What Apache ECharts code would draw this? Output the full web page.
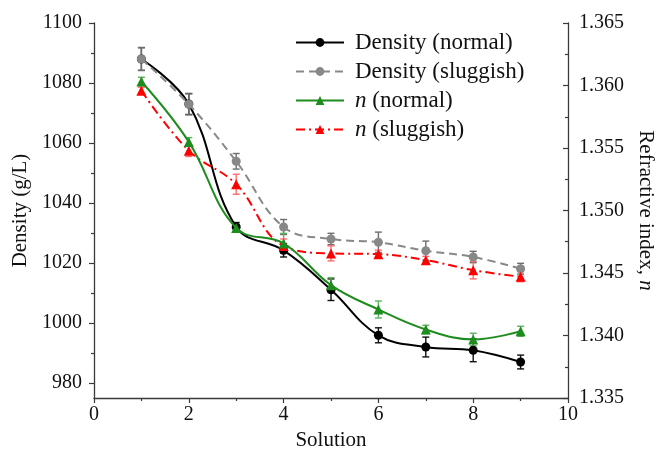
<!DOCTYPE html>
<html>
<head>
<meta charset="utf-8">
<script src="https://cdn.jsdelivr.net/npm/echarts@6/dist/echarts.min.js"></script>
<style>html,body{margin:0;padding:0;background:#fff}#c{width:656px;height:451px}</style>
</head>
<body>
<div id="c"></div>
<script>
const solution = [1, 2, 3, 4, 5, 6, 7, 8, 9];
const densityNormal = [1088, 1073, 1032, 1024.2, 1011.1, 995.9, 992.0, 990.9, 987.0];
const densityNormalErr = [3.8, 3.5, 1.5, 2.2, 3.6, 2.5, 3.3, 3.8, 2.3];
const densitySluggish = [1088.0, 1072.9, 1053.9, 1032.0, 1028.0, 1026.9, 1024.1, 1022.0, 1018.1];
const densitySluggishErr = [3.8, 3.5, 2.6, 2.5, 1.9, 3.4, 3.2, 1.9, 1.8];
const nNormal = [1.36032, 1.35549, 1.3486, 1.34737, 1.34403, 1.34208, 1.34048, 1.33968, 1.34034];
const nNormalErr = [0.00034, 0.00034, 0.00024, 0.0008, 0.0006, 0.00068, 0.00034, 0.0005, 0.0004];
const nSluggish = [1.35958, 1.35479, 1.3521, 1.34716, 1.34657, 1.34651, 1.34603, 1.34523, 1.3447];
const nSluggishErr = [0.00028, 0.00047, 0.0008, 0.00056, 0.0006, 0.00032, 0.0003, 0.0007, 0.0004];
const densityTicks = [980, 1000, 1020, 1040, 1060, 1080, 1100];
const densityMinorTicks = [990, 1010, 1030, 1050, 1070, 1090];
const seriesNames = ['Density (normal)', 'Density (sluggish)', 'n (normal)', 'n (sluggish)'];

const FONT = 'Liberation Serif';
const AX = '#3a3a3a';

function pairs(vals) { return solution.map((x, i) => [x, vals[i]]); }
function errSeries(yIdx, vals, errs, color) {
  return {
    type: 'custom', yAxisIndex: yIdx, silent: true, z: 1,
    data: solution.map((x, i) => [x, vals[i] - errs[i], vals[i] + errs[i]]),
    encode: { x: 0, y: [1, 2] },
    renderItem: function (params, api) {
      const x = api.value(0);
      const lo = api.coord([x, api.value(1)]);
      const hi = api.coord([x, api.value(2)]);
      const w = 3.5;
      const st = { stroke: color, lineWidth: 1.4 };
      return {
        type: 'group', children: [
          { type: 'line', shape: { x1: lo[0], y1: lo[1], x2: hi[0], y2: hi[1] }, style: st },
          { type: 'line', shape: { x1: lo[0] - w, y1: lo[1], x2: lo[0] + w, y2: lo[1] }, style: st },
          { type: 'line', shape: { x1: hi[0] - w, y1: hi[1], x2: hi[0] + w, y2: hi[1] }, style: st }
        ]
      };
    }
  };
}

const chart = echarts.init(document.getElementById('c'), null, { renderer: 'canvas' });
chart.setOption({
  animation: false,
  textStyle: { fontFamily: FONT },
  grid: { left: 94, right: 88, top: 23, bottom: 53, containLabel: false, outerBoundsMode: 'none' },
  legend: {
    orient: 'vertical', left: 290, top: 26, itemGap: 6,
    itemWidth: 48, itemHeight: 11,
    data: seriesNames,
    formatter: function (name) {
      if (name.indexOf('n ') === 0) return '{i|n}' + name.slice(1);
      return name;
    },
    textStyle: {
      fontFamily: FONT, fontSize: 23, color: '#111', padding: [0, 0, 0, 6],
      rich: { i: { fontFamily: FONT, fontSize: 23, fontStyle: 'italic', color: '#111' } }
    }
  },
  xAxis: {
    type: 'value', min: 0, max: 10, interval: 2,
    name: 'Solution', nameLocation: 'middle', nameGap: 29,
    nameTextStyle: { fontFamily: FONT, fontSize: 21, color: '#111' },
    axisLine: { show: true, lineStyle: { color: AX, width: 1.3 } },
    axisTick: { show: true, length: 5, lineStyle: { color: AX, width: 1.2 } },
    minorTick: { show: true, splitNumber: 2, length: 3, lineStyle: { color: AX, width: 1.2 } },
    axisLabel: { fontFamily: FONT, fontSize: 20, color: '#111', margin: 7 },
    splitLine: { show: false }
  },
  yAxis: [
    {
      type: 'value', position: 'left', min: 975, max: 1100,
      name: 'Density (g/L)', nameLocation: 'middle', nameGap: 61, nameRotate: 90,
      nameTextStyle: { fontFamily: FONT, fontSize: 21, color: '#111' },
      axisLine: { show: true, lineStyle: { color: AX, width: 1.3 } },
      axisTick: { show: true, length: 5, customValues: densityTicks, lineStyle: { color: AX, width: 1.2 } },
      axisLabel: { fontFamily: FONT, fontSize: 20, color: '#111', margin: 12, customValues: densityTicks, formatter: v => String(v) },
      splitLine: { show: false }
    },
    {
      type: 'value', position: 'left', min: 975, max: 1100,
      axisLine: { show: false },
      axisTick: { show: true, length: 3, customValues: densityMinorTicks, lineStyle: { color: AX, width: 1.2 } },
      axisLabel: { show: false },
      splitLine: { show: false }
    },
    {
      type: 'value', position: 'right', min: 1.335, max: 1.365, interval: 0.005,
      name: 'Refractive index, {i|n}', nameLocation: 'middle', nameGap: 56, nameRotate: -90,
      nameTextStyle: {
        fontFamily: FONT, fontSize: 21, color: '#111',
        rich: { i: { fontFamily: FONT, fontSize: 21, fontStyle: 'italic', color: '#111' } }
      },
      axisLine: { show: true, lineStyle: { color: AX, width: 1.3 } },
      axisTick: { show: true, inside: true, length: 5, lineStyle: { color: AX, width: 1.2 } },
      minorTick: { show: true, splitNumber: 2, length: 3, lineStyle: { color: AX, width: 1.2 } },
      axisLabel: { fontFamily: FONT, fontSize: 20, color: '#111', margin: 11, formatter: v => v.toFixed(3) },
      splitLine: { show: false }
    }
  ],
  series: [
    errSeries(0, densityNormal, densityNormalErr, '#111'),
    errSeries(0, densitySluggish, densitySluggishErr, '#6e6e6e'),
    errSeries(2, nNormal, nNormalErr, '#5fb05f'),
    errSeries(2, nSluggish, nSluggishErr, '#ff6b6b'),
    {
      name: seriesNames[0], type: 'line', yAxisIndex: 0, data: pairs(densityNormal), smooth: 0.4,
      symbol: 'circle', symbolSize: 9, z: 3,
      lineStyle: { color: '#000', width: 2 }, itemStyle: { color: '#000' }
    },
    {
      name: seriesNames[1], type: 'line', yAxisIndex: 0, data: pairs(densitySluggish), smooth: 0.4,
      symbol: 'circle', symbolSize: 9, z: 4,
      lineStyle: { color: '#888', width: 2, type: [8, 5] }, itemStyle: { color: '#888' }
    },
    {
      name: seriesNames[2], type: 'line', yAxisIndex: 2, data: pairs(nNormal), smooth: 0.4,
      symbol: 'triangle', symbolSize: 10, z: 5,
      lineStyle: { color: '#1e8c1e', width: 2 }, itemStyle: { color: '#1e8c1e' }
    },
    {
      name: seriesNames[3], type: 'line', yAxisIndex: 2, data: pairs(nSluggish), smooth: 0.4,
      symbol: 'triangle', symbolSize: 10, z: 4,
      lineStyle: { color: '#ff0000', width: 2, type: [9, 4, 2, 4] }, itemStyle: { color: '#ff0000' }
    }
  ]
});
</script>
</body>
</html>
